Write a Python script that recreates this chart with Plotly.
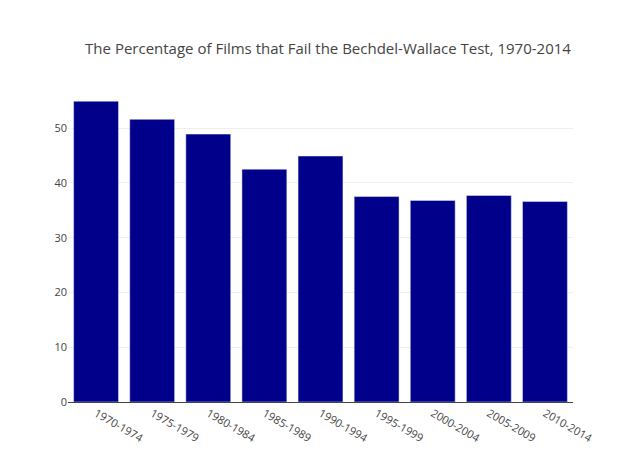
import plotly.graph_objects as go

periods = ["1970-1974","1975-1979","1980-1984","1985-1989","1990-1994","1995-1999","2000-2004","2005-2009","2010-2014"]
fail_pct = [54.9, 51.6, 48.9, 42.5, 44.9, 37.5, 36.8, 37.7, 36.6]

fig = go.Figure(go.Bar(x=periods, y=fail_pct, marker_color="#00008B"))
fig.update_layout(
    width=640, height=469,
    title=dict(text="The Percentage of Films that Fail the Bechdel-Wallace Test, 1970-2014", x=0.5, xanchor="center", y=0.925, font=dict(size=15)),
    font=dict(family="Open Sans", color="#444", size=12),
    margin=dict(l=60, r=75, t=79, b=75),
    plot_bgcolor="white", paper_bgcolor="white",
    bargap=0.2,
    xaxis=dict(showline=True, linecolor="#444", tickfont=dict(size=11)),
    yaxis=dict(range=[0, 57.5], dtick=10, gridcolor="#eee", zeroline=False, tickfont=dict(size=11)),
)
fig.write_html("out.html")
